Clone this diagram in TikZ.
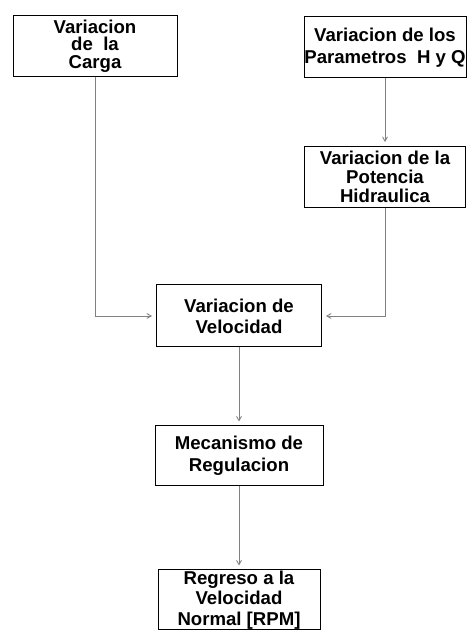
\documentclass[tikz,border=0pt]{standalone}
\usepackage{fontspec}
\setmainfont{Liberation Sans}
\usepackage{tikz}
\usetikzlibrary{shapes.geometric, arrows}
\tikzstyle{stage} = [rectangle, 
minimum width=164pt, 
minimum height=61pt, 
inner xsep=0pt, 
inner ysep=0pt, 
align=center, 
draw=black, 
line width=1pt, 
font=\bfseries\fontsize{18.6}{21}\selectfont]
\tikzstyle{arrow} = [draw=black!50, line width=0.9pt, ->, >=angle 60, shorten >=4pt]

\begin{document}
\begin{tikzpicture}[x=1pt, y=1pt, node distance=142pt]
\useasboundingbox (0,0) rectangle (468,632);

\node (carga) [stage, font=\bfseries\fontsize{18.6}{17.5}\selectfont] at (95,586) {Variacion\\de~ la\\Carga};
\node (param) [stage, minimum width=162pt, font=\bfseries\fontsize{18.6}{22}\selectfont] at (385,584.5) {Variacion de los\\Parametros~ H y Q};
\node (potencia) [stage, minimum width=161pt, below of=param, node distance=129.5pt, font=\bfseries\fontsize{18.6}{19}\selectfont] {Variacion de la\\Potencia\\Hidraulica};
\node (velocidad) [stage, minimum width=165pt, minimum height=62pt] at (239,316) {Variacion de\\Velocidad};
\node (mecanismo) [stage, minimum width=168pt, minimum height=60pt, below of=velocidad, node distance=140pt, font=\bfseries\fontsize{18.6}{22}\selectfont] {Mecanismo de\\Regulacion};
\node (regreso) [stage, minimum width=162pt, minimum height=60pt, below of=mecanismo, node distance=144pt, font=\bfseries\fontsize{18.6}{20.5}\selectfont] {Regreso a la\\Velocidad\\Normal [RPM]};

\draw [arrow] (carga.south) |- (velocidad.west);
\draw [arrow] (param) -- (potencia);
\draw [arrow] (potencia.south) |- (velocidad.east);
\draw [arrow] (velocidad) -- (mecanismo);
\draw [arrow] (mecanismo) -- (regreso);

\end{tikzpicture}
\end{document}
